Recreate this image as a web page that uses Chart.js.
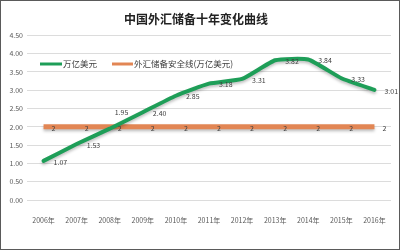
<!DOCTYPE html>
<html>
<head>
<meta charset="utf-8">
<script src="https://cdn.jsdelivr.net/npm/chart.js@4"></script>
<style>
  html, body { margin: 0; padding: 0; background: #fff; }
  #wrap { width: 398px; height: 248px; border: 1px solid #5a5a5a; }
</style>
</head>
<body>
<div id="wrap"><canvas id="reserveChart" width="398" height="248"></canvas></div>
<script>
const years = ['2006年', '2007年', '2008年', '2009年', '2010年', '2011年', '2012年', '2013年', '2014年', '2015年', '2016年'];
const reserves = [1.07, 1.53, 1.95, 2.40, 2.85, 3.18, 3.31, 3.82, 3.84, 3.33, 3.01];
const safeLine = [2, 2, 2, 2, 2, 2, 2, 2, 2, 2, 2];
const seriesNames = ['万亿美元', '外汇储备安全线(万亿美元)'];

const FONT = '"Noto Sans CJK SC", "Noto Sans", sans-serif';
const GREEN = 'rgb(30, 158, 88)';
const ORANGE = 'rgb(226, 134, 84)';

// лёгкая тень под линиями
const lineShadow = {
  id: 'lineShadow',
  beforeDatasetDraw(chart) {
    const ctx = chart.ctx;
    ctx.save();
    ctx.shadowColor = 'rgba(0, 0, 0, 0.25)';
    ctx.shadowBlur = 3;
    ctx.shadowOffsetY = 2;
  },
  afterDatasetDraw(chart) {
    chart.ctx.restore();
  },
};

// подписи значений справа от точек (как в Excel)
const valueLabels = {
  id: 'valueLabels',
  afterDatasetsDraw(chart) {
    const ctx = chart.ctx;
    ctx.save();
    ctx.font = '7px ' + FONT;
    ctx.fillStyle = '#404040';
    ctx.textAlign = 'left';
    ctx.textBaseline = 'middle';
    chart.getDatasetMeta(1).data.forEach((pt, i) => {
      ctx.fillText(String(safeLine[i]), pt.x + 8, pt.y + 1);
    });
    chart.getDatasetMeta(0).data.forEach((pt, i) => {
      let dx = 10, dy = 1;
      if (i === 2) { dx = 5; dy = -16; }
      ctx.fillText(reserves[i].toFixed(2), pt.x + dx, pt.y + dy);
    });
    ctx.restore();
  },
};

// легенда внутри области графика
const innerLegend = {
  id: 'innerLegend',
  afterDraw(chart) {
    const ctx = chart.ctx;
    ctx.save();
    ctx.font = '8.5px ' + FONT;
    ctx.fillStyle = '#404040';
    ctx.textBaseline = 'middle';
    ctx.lineWidth = 3;
    const y = 63;
    ctx.strokeStyle = GREEN;
    ctx.beginPath(); ctx.moveTo(39, y); ctx.lineTo(61, y); ctx.stroke();
    ctx.fillText(seriesNames[0], 62, y);
    ctx.strokeStyle = ORANGE;
    ctx.beginPath(); ctx.moveTo(111, y); ctx.lineTo(132, y); ctx.stroke();
    ctx.fillText(seriesNames[1], 133, y);
    ctx.restore();
  },
};

new Chart(document.getElementById('reserveChart'), {
  type: 'line',
  data: {
    labels: years,
    datasets: [
      {
        label: seriesNames[0],
        data: reserves,
        borderColor: GREEN,
        borderWidth: 4,
        pointRadius: 0,
        tension: 0.15,
        borderCapStyle: 'round',
        order: 0,
      },
      {
        label: seriesNames[1],
        data: safeLine,
        borderColor: ORANGE,
        borderWidth: 5,
        pointRadius: 0,
        order: 1,
      },
    ],
  },
  options: {
    responsive: false,
    animation: false,
    layout: { padding: { left: 0, right: 8, top: 0, bottom: 0 } },
    plugins: {
      legend: { display: false },
      tooltip: { enabled: false },
      title: {
        display: true,
        text: '中国外汇储备十年变化曲线',
        color: '#222',
        font: { family: FONT, size: 12, weight: 'bold' },
        padding: { top: 11, bottom: 9 },
      },
    },
    scales: {
      x: {
        offset: true,
        grid: { display: false },
        border: { display: false },
        ticks: { color: '#595959', font: { family: FONT, size: 7 }, padding: 8, maxRotation: 0, autoSkip: false },
        afterFit: (s) => { s.height = 49; },
      },
      y: {
        min: 0,
        max: 4.5,
        grid: { color: '#dcdcdc', lineWidth: 1, drawTicks: false },
        border: { display: false },
        ticks: {
          stepSize: 0.5,
          color: '#595959',
          padding: 4,
          font: { family: FONT, size: 7 },
          callback: (v) => Number(v).toFixed(2),
        },
        afterFit: (s) => { s.width = 26; },
      },
    },
  },
  plugins: [lineShadow, valueLabels, innerLegend],
});
</script>
</body>
</html>
